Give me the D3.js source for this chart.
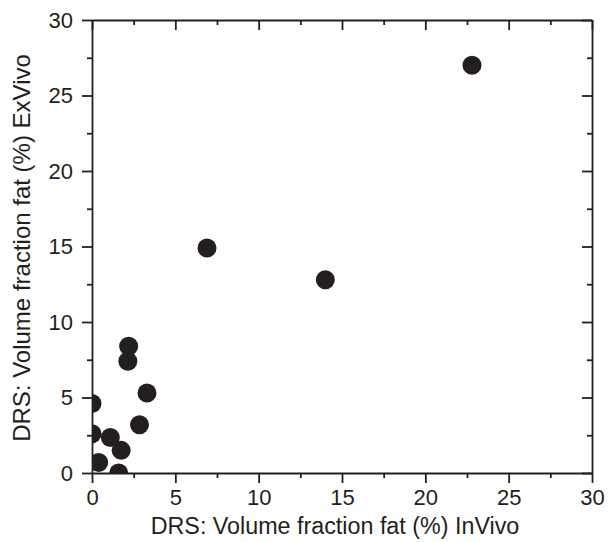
<!DOCTYPE html>
<html>
<head>
<meta charset="utf-8">
<script src="https://cdn.jsdelivr.net/npm/d3@7"></script>
<style>
  body { margin: 0; background: #fff; }
  text { font-family: "Liberation Sans", Arial, sans-serif; fill: #231f20; }
</style>
</head>
<body>
<svg width="608" height="542"></svg>
<script>
// values
var inVivo = [22.8, 6.9, 14.0, 2.2, 2.15, 3.3, 0, 2.85, 0, 1.1, 1.75, 0.4, 1.6];
var exVivo = [27.0, 14.9, 12.8, 8.4, 7.4, 5.3, 4.6, 3.2, 2.6, 2.35, 1.5, 0.7, 0];
var majorTicks = [0, 5, 10, 15, 20, 25, 30];
var minorTicks = [2.5, 7.5, 12.5, 17.5, 22.5, 27.5];

function main(){
    var svg = d3.select("svg"),
    left = 92, top = 20, right = 592, bottom = 473;
    var ink = "#231f20";

    var x = d3.scaleLinear().domain([0, 30]).range([left, right]),
    y = d3.scaleLinear().domain([0, 30]).range([bottom, top]);

    svg.append("clipPath").attr("id", "plotclip")
        .append("rect")
        .attr("x", left).attr("y", top)
        .attr("width", right - left).attr("height", bottom - top);

    // dots first, axes drawn over them
    svg.append("g").attr("clip-path", "url(#plotclip)")
        .selectAll("circle")
        .data(inVivo)
        .enter().append("circle")
        .attr("cx", function(d) { return x(d); })
        .attr("cy", function(d, i) { return y(exVivo[i]); })
        .attr("r", 9.5)
        .attr("fill", ink);

    function styleAxis(g){
        g.selectAll("path, line").attr("stroke", ink).attr("stroke-width", 1.8);
        g.selectAll("text").style("font-size", "22px").attr("fill", ink)
            .style("font-family", "'Liberation Sans', Arial, sans-serif");
    }

    // bottom
    svg.append("g").attr("transform", "translate(0," + bottom + ")")
        .call(d3.axisBottom(x).tickValues(majorTicks).tickSize(10).tickSizeOuter(0).tickPadding(6))
        .call(styleAxis);
    svg.append("g").attr("transform", "translate(0," + bottom + ")")
        .call(d3.axisBottom(x).tickValues(minorTicks).tickSize(5).tickSizeOuter(0).tickFormat(""))
        .call(styleAxis).select("path").remove();

    // left
    svg.append("g").attr("transform", "translate(" + left + ",0)")
        .call(d3.axisLeft(y).tickValues(majorTicks).tickSize(10).tickSizeOuter(0).tickPadding(9))
        .call(styleAxis);
    svg.append("g").attr("transform", "translate(" + left + ",0)")
        .call(d3.axisLeft(y).tickValues(minorTicks).tickSize(5).tickSizeOuter(0).tickFormat(""))
        .call(styleAxis).select("path").remove();

    // top, ticks inward
    svg.append("g").attr("transform", "translate(0," + top + ")")
        .call(d3.axisTop(x).tickValues(majorTicks).tickSize(-10).tickSizeOuter(0).tickFormat(""))
        .call(styleAxis);
    svg.append("g").attr("transform", "translate(0," + top + ")")
        .call(d3.axisTop(x).tickValues(minorTicks).tickSize(-5).tickSizeOuter(0).tickFormat(""))
        .call(styleAxis).select("path").remove();

    // right, ticks inward
    svg.append("g").attr("transform", "translate(" + right + ",0)")
        .call(d3.axisRight(y).tickValues(majorTicks).tickSize(-10).tickSizeOuter(0).tickFormat(""))
        .call(styleAxis);
    svg.append("g").attr("transform", "translate(" + right + ",0)")
        .call(d3.axisRight(y).tickValues(minorTicks).tickSize(-5).tickSizeOuter(0).tickFormat(""))
        .call(styleAxis).select("path").remove();

    svg.append("text")
        .attr("x", 335)
        .attr("y", 534)
        .attr("text-anchor", "middle")
        .style("font-size", "23.3px")
        .text("DRS: Volume fraction fat (%) InVivo");

    svg.append("text")
        .attr("transform", "translate(30,248) rotate(-90)")
        .attr("text-anchor", "middle")
        .style("font-size", "24px")
        .text("DRS: Volume fraction fat (%) ExVivo");
}
main();
</script>
</body>
</html>
